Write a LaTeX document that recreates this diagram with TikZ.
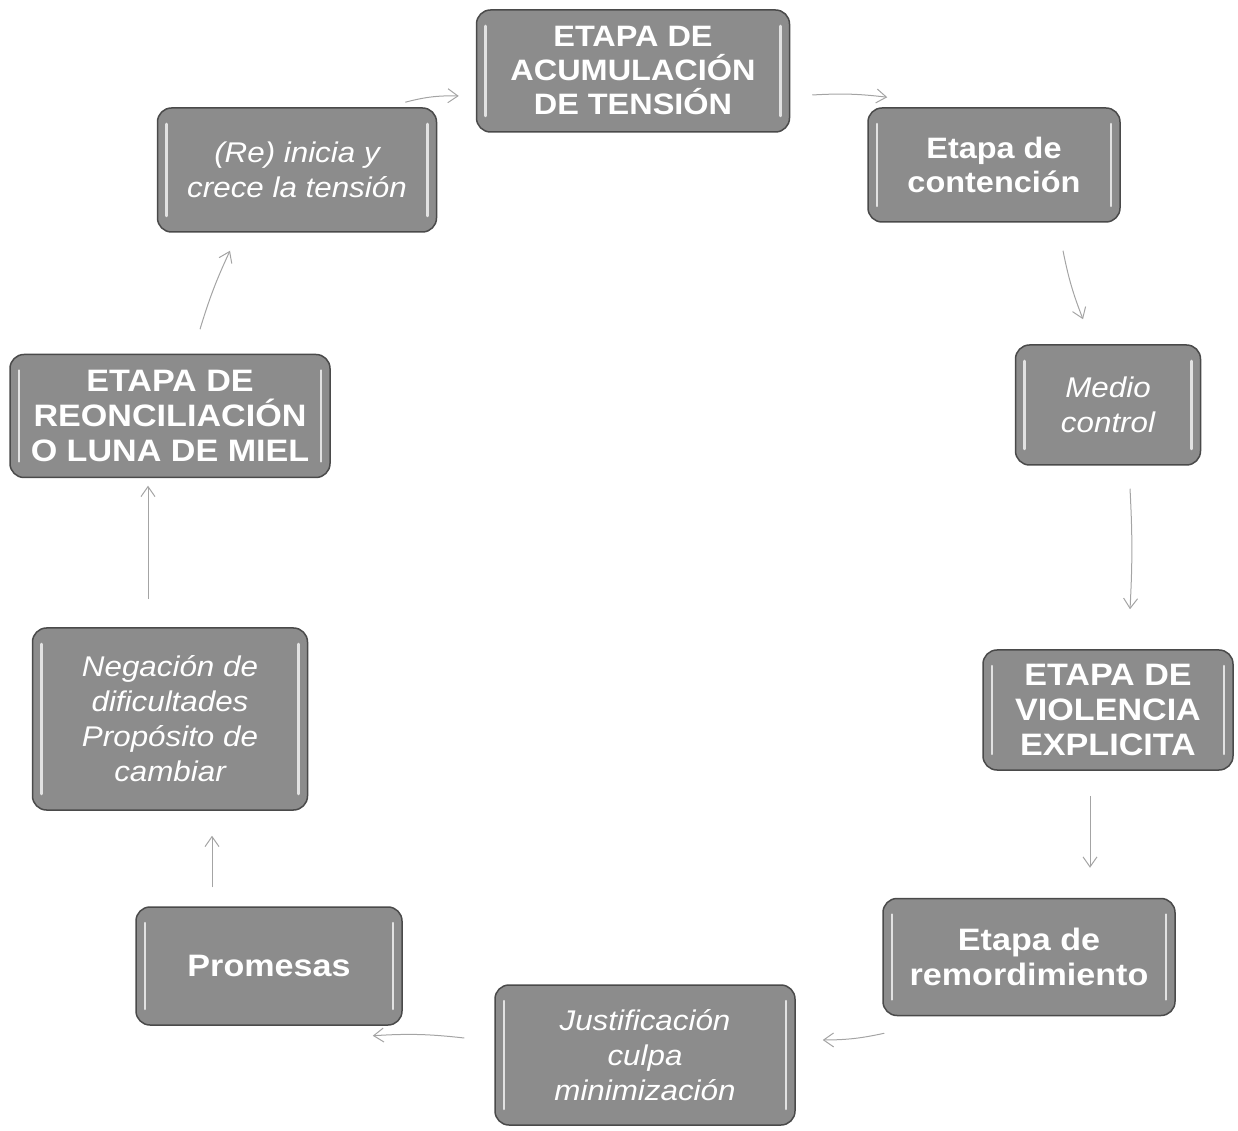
\documentclass[tikz,border=0pt]{standalone}
\usepackage{fontspec}
\newfontfamily\boxfont{Liberation Sans}[FakeStretch=1.1]
\usetikzlibrary{arrows.meta,calc}
\definecolor{boxfill}{HTML}{8C8C8C}
\definecolor{boxedge}{HTML}{4A4A4A}
\definecolor{arrcol}{HTML}{A4A4A4}
\tikzset{
  stage/.style={draw=boxedge, line width=1.5pt, fill=boxfill, rounded corners=14pt,
    text=white, align=center, inner sep=2pt,
    path picture={
      \draw[white, opacity=0.75, line width=2.5pt, line cap=round]
        ([xshift=9pt,yshift=-16pt]path picture bounding box.north west) --
        ([xshift=9pt,yshift=16pt]path picture bounding box.south west);
      \draw[white, opacity=0.75, line width=2.5pt, line cap=round]
        ([xshift=-9pt,yshift=-16pt]path picture bounding box.north east) --
        ([xshift=-9pt,yshift=16pt]path picture bounding box.south east);
    }},
  boldtxt/.style={font=\boxfont\bfseries\fontsize{29.5}{34}\selectfont},
  bigbold/.style={font=\boxfont\bfseries\fontsize{31}{35}\selectfont},
  itxt/.style={font=\boxfont\itshape\fontsize{28.5}{35}\selectfont},
  arr/.style={draw=arrcol, line width=1pt, -{Straight Barb[length=10pt,width=14pt]}}
}
\begin{document}
\begin{tikzpicture}[x=1pt,y=1pt]
\useasboundingbox (0,0) rectangle (1238,1130);
\node[stage, boldtxt, minimum width=313pt, minimum height=122pt] (n1) at (633,1059) {ETAPA DE\\ACUMULACIÓN\\DE TENSIÓN};
\node[stage, boldtxt, minimum width=252pt, minimum height=114pt] (n2) at (994,965) {Etapa de\\contención};
\node[stage, itxt, minimum width=185pt, minimum height=120pt] (n3) at (1108,725) {Medio\\control};
\node[stage, bigbold, minimum width=250pt, minimum height=120pt] (n4) at (1108,420) {ETAPA DE\\VIOLENCIA\\EXPLICITA};
\node[stage, bigbold, minimum width=292pt, minimum height=117pt] (n5) at (1029,173) {Etapa de\\remordimiento};
\node[stage, itxt, minimum width=300pt, minimum height=140pt] (n6) at (645,75) {Justificación\\culpa\\minimización};
\node[stage, bigbold, minimum width=266pt, minimum height=118pt] (n7) at (269,164) {Promesas};
\node[stage, itxt, minimum width=275pt, minimum height=182pt] (n8) at (170,411) {Negación de\\dificultades\\Propósito de\\cambiar};
\node[stage, bigbold, minimum width=320pt, minimum height=123pt] (n9) at (170,714) {ETAPA DE\\REONCILIACIÓN\\O LUNA DE MIEL};
\node[stage, itxt, minimum width=279pt, minimum height=124pt] (n10) at (297,960) {(Re) inicia y\\crece la tensión};

\draw[arr] ($(n10.north east)+(-32,5)$) to[bend left=8] ($(n1.west)+(-17,-25)$);
\draw[arr] ($(n1.east)+(22,-24)$) to[bend left=5] ($(n2.north west)+(20,10)$);
\draw[arr] ($(n2.south)+(69,-28)$) to[bend right=5] ($(n3.north)+(-25,25)$);
\draw[arr] ($(n3.south)+(22,-23)$) to[bend left=3] ($(n4.north)+(22,40)$);
\draw[arr] ($(n4.south)+(-18,-25)$) to ($(n5.north)+(61,30)$);
\draw[arr] ($(n5.south west)+(2,-17)$) to[bend left=6] ($(n6.east)+(27,15)$);
\draw[arr] ($(n6.west)+(-30,17)$) to[bend right=5] ($(n7.south east)+(-30,-10)$);
\draw[arr] ($(n7.north)+(-57,19)$) to ($(n8.south)+(42,-25)$);
\draw[arr] ($(n8.north)+(-22,28)$) to ($(n9.south)+(-22,-7.5)$);
\draw[arr] ($(n9.north)+(30,24.5)$) to[bend left=4] ($(n10.south)+(-67,-18)$);
\end{tikzpicture}
\end{document}
